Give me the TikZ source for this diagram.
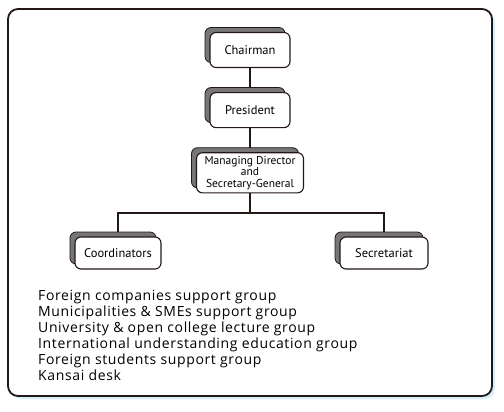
\documentclass[tikz,border=0pt]{standalone}
\usepackage{fontspec}
\setmainfont{PT Sans}
\newfontfamily\listfont[LetterSpace=4.5]{Open Sans}
\usetikzlibrary{positioning,shadows,backgrounds}

\definecolor{linecol}{RGB}{35,24,21}
\definecolor{shadowcol}{RGB}{118,118,118}
\definecolor{framecyan}{RGB}{212,240,252}

\begin{document}
\begin{tikzpicture}[
            x=1pt,y=-1pt,
            auto,node distance=24pt,
            postnode/.style={rectangle, rounded corners=6pt, draw=linecol, line width=1.1pt, fill=white,
                minimum width=80pt, minimum height=35pt, align=center, font=\fontsize{12.5}{12}\selectfont,
                general shadow={fill=shadowcol, draw=linecol, line width=0.8pt, shadow xshift=-5pt, shadow yshift=5pt}},
            link/.style={draw=linecol, line width=1.1pt},
            ]
            \useasboundingbox (0,0) rectangle (504,412);

            % Nodes
            \node[postnode] (chairman) at (250,50) {Chairman};
            \node[postnode] (president) [below=of chairman] {President};
            \node[postnode, minimum width=107pt, minimum height=38pt, font=\fontsize{11.5}{11.5}\selectfont] (director) [below=of president] {Managing Director\\and\\Secretary-General};
            \node[postnode, minimum width=86pt, minimum height=32pt] (coordinators) at (118,253) {Coordinators};
            \node[postnode, minimum width=88pt, minimum height=32pt] (secretariat) at (384,253) {Secretariat};
            \coordinate (split) at (250,213);

            \node[anchor=north west, align=left, inner sep=0pt, font=\listfont\fontsize{14}{16}\selectfont] (groups) at (38,290)
                {Foreign companies support group\\
                 Municipalities \& SMEs support group\\
                 University \& open college lecture group\\
                 International understanding education group\\
                 Foreign students support group\\
                 Kansai desk};

            \begin{scope}[on background layer]
                % Frame
                \fill[framecyan, rounded corners=10pt] (11,12) rectangle (495,399);
                \draw[draw=linecol, fill=white, line width=1.8pt, rounded corners=10pt] (8,9) rectangle (492,396);
                % Lines
                \draw[link] (chairman) -- (president);
                \draw[link] (president) -- (director);
                \draw[link] (director) -- (split);
                \draw[link] (split) -| (coordinators);
                \draw[link] (split) -| (secretariat);
            \end{scope}
        \end{tikzpicture}
\end{document}
